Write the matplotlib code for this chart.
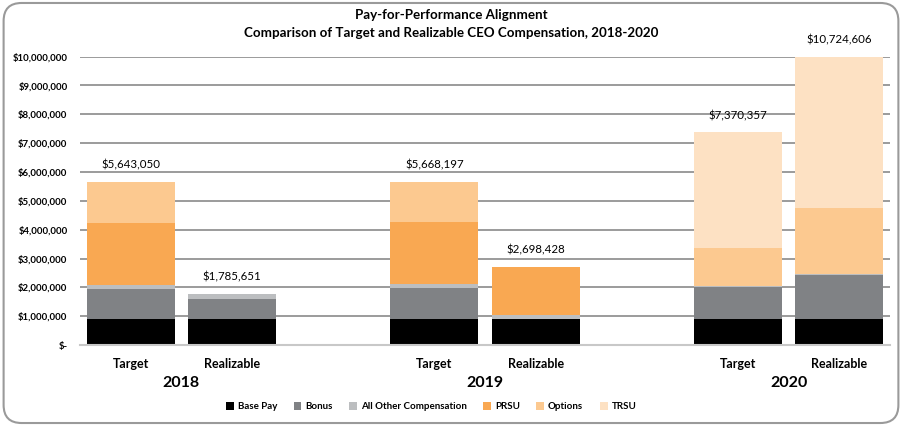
import matplotlib
matplotlib.use("Agg")
import matplotlib.pyplot as plt
from matplotlib.patches import FancyBboxPatch, Patch
from matplotlib.ticker import FuncFormatter

plt.rcParams['font.family'] = ['Lato', 'DejaVu Sans']

# data
years = ["2018", "2019", "2020"]
bar_labels = ["Target", "Realizable"]
base_pay = [890000, 890000, 920000, 920000, 920000, 920000]
bonus = [1040000, 700000, 1060000, 0, 1080000, 1500000]
other_comp = [150000, 195651, 140000, 120000, 50000, 40000]
prsu = [2150000, 0, 2140000, 1658428, 0, 0]
options = [1413050, 0, 1408197, 0, 1330000, 2300000]
trsu = [0, 0, 0, 0, 3990357, 5964606]

series = [
    ("Base Pay", base_pay, "#000000"),
    ("Bonus", bonus, "#808285"),
    ("All Other Compensation", other_comp, "#BCBEC0"),
    ("PRSU", prsu, "#F9A852"),
    ("Options", options, "#FCC990"),
    ("TRSU", trsu, "#FDE1C3"),
]

# x positions: two bars per year, one empty slot between years
xpos = []
for g in range(len(years)):
    for j in range(len(bar_labels)):
        xpos.append(g * 3 + j)

fig = plt.figure(figsize=(9.02, 4.26), dpi=100)
ax = fig.add_axes([0.0887, 0.190, 0.898, 0.677])

bottoms = [0] * len(xpos)
for name, vals, col in series:
    ax.bar(xpos, vals, bottom=bottoms, width=0.87, color=col, label=name, zorder=3)
    bottoms = [b + v for b, v in zip(bottoms, vals)]

ymax = 10000000
for x, tot in zip(xpos, bottoms):
    y = min(tot, ymax)
    ax.text(x, y + 400000, f"${tot:,.0f}", ha="center", va="bottom",
            fontsize=8.3, color="#000000", clip_on=False)

ax.set_xlim(-0.5, 7.5)
ax.set_ylim(0, ymax)
ax.set_yticks(range(0, ymax + 1, 1000000))
ax.yaxis.set_major_formatter(FuncFormatter(lambda v, p: "$-" if v == 0 else f"${v:,.0f}"))
ax.tick_params(axis="y", length=0, labelsize=6.9, pad=9)
for lab in ax.get_yticklabels():
    lab.set_fontweight("bold")
ax.set_xticks(xpos)
ax.set_xticklabels(bar_labels * len(years), fontsize=9, fontweight="bold")
ax.tick_params(axis="x", length=0, pad=9)
ax.grid(axis="y", color="#8a8a8a", linewidth=1.2, zorder=0)
ax.set_axisbelow(True)
for s in ["top", "right", "left"]:
    ax.spines[s].set_visible(False)
ax.spines["bottom"].set_color("#c8c8c8")
ax.spines["bottom"].set_linewidth(1.5)
ax.spines["bottom"].set_zorder(4)

for g, yr in enumerate(years):
    ax.text(g * 3 + 0.5, -0.13, yr, transform=ax.get_xaxis_transform(),
            ha="center", va="center", fontsize=11.5, fontweight="bold")

fig.text(0.5, 0.965, "Pay-for-Performance Alignment", ha="center", va="center",
         fontsize=9.6, fontweight="bold")
fig.text(0.5, 0.922, "Comparison of Target and Realizable CEO Compensation, 2018-2020",
         ha="center", va="center", fontsize=9.6, fontweight="bold")

handles = [Patch(facecolor=c, label=n) for n, _, c in series]
leg = fig.legend(handles=handles, loc="center", bbox_to_anchor=(0.478, 0.045), ncol=6,
                 frameon=False, handlelength=0.8, handleheight=0.8, handletextpad=0.4,
                 columnspacing=1.7, prop={"size": 7, "weight": "bold"})

border = FancyBboxPatch((0.004, 0.007), 0.992, 0.986, boxstyle="round,pad=0,rounding_size=0.02",
                        transform=fig.transFigure, facecolor="none", edgecolor="#9a9a9a",
                        linewidth=1.5, mutation_aspect=902 / 426)
fig.patches.append(border)

fig.savefig("out.png", dpi=100, facecolor="white")
